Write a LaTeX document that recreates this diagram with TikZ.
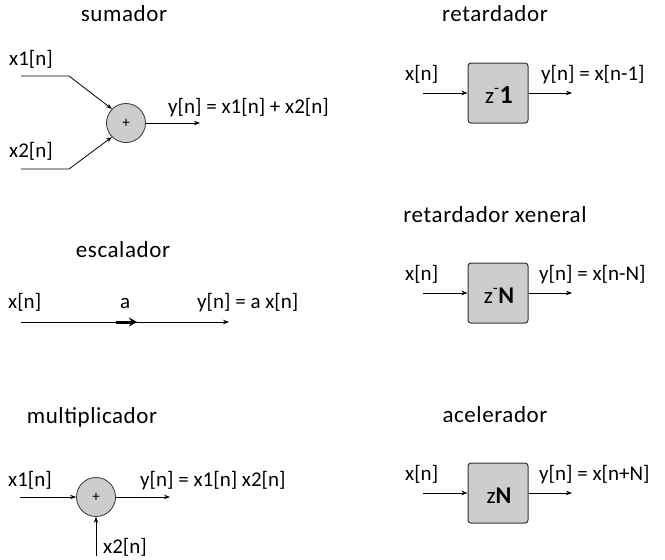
\documentclass[tikz,border=0pt]{standalone}
\usepackage{fontspec}
\setmainfont{Carlito}
\usetikzlibrary{arrows.meta}
\definecolor{boxgray}{HTML}{CDCDCD}
\definecolor{edgegray}{HTML}{333333}
\begin{document}
\begin{tikzpicture}[x=1pt,y=-1pt,
  title/.style={font=\fontsize{23}{25}\selectfont\addfontfeature{LetterSpace=2.5}, anchor=base},
  lbl/.style={font=\fontsize{21}{23}\selectfont, anchor=base west, inner sep=0pt},
  sig/.style={line width=0.8pt, -{Stealth[length=6pt,width=4.5pt]}},
  sumnode/.style={circle, draw=edgegray, line width=0.8pt, fill=boxgray, minimum size=39pt, inner sep=0pt, font=\fontsize{15}{15}\selectfont},
  delaybox/.style={draw=edgegray, line width=1pt, fill=boxgray, rounded corners=3pt, minimum width=60pt, minimum height=60pt, inner sep=0pt},
  boxtext/.style={font=\fontsize{23}{25}\selectfont, anchor=base, inner sep=0pt}
]
\useasboundingbox (0,0) rectangle (665,560);

% ---------- sumador ----------
\node[title] (t1) at (124,21) {sumador};
\node[sumnode] (s) at (126,123) {+};
\node[lbl] (sx1) at (9,65) {x1[n]};
\node[lbl] (sx2) at (9,157) {x2[n]};
\coordinate (a1) at (21,76);
\coordinate (b1) at (69,76);
\coordinate (a2) at (21,169);
\coordinate (b2) at (69,169);
\draw[sig] (a1) -- (b1) -- (s.135);
\draw[sig] (a2) -- (b2) -- (s.225);
\coordinate (so) at (200,123);
\draw[sig] (s.east) -- (so);
\node[lbl] (sy) at (168,113) {y[n] = x1[n] + x2[n]};

% ---------- escalador ----------
\node[title] (t2) at (123,257) {escalador};
\node[lbl] (ex) at (8,308) {x[n]};
\node[lbl] (ea) at (120,308) {a};
\node[lbl] (ey) at (197,308) {y[n] = a x[n]};
\coordinate (e0) at (21,322);
\coordinate (e1) at (229,322);
\coordinate (m0) at (116,322);
\coordinate (m1) at (137,322);
\draw[sig] (e0) -- (e1);
\draw[line width=3pt, -{Stealth[length=8pt,width=9pt]}] (m0) -- (m1);

% ---------- multiplicador ----------
\node[title] (t3) at (92,423) {multiplicador};
\node[sumnode] (m) at (96,497) {+};
\node[lbl] (mx1) at (8,486) {x1[n]};
\node[lbl] (my) at (140,486) {y[n] = x1[n] x2[n]};
\node[lbl] (mx2) at (103,553) {x2[n]};
\coordinate (mi) at (20,497);
\coordinate (mo) at (170,497);
\coordinate (mb) at (96,556);
\draw[sig] (mi) -- (m.west);
\draw[sig] (m.east) -- (mo);
\draw[sig] (mb) -- (m.south);

% ---------- retardador ----------
\node[title] (t4) at (495,21) {retardador};
\node[delaybox] (d1) at (498,93) {};
\node[boxtext] (d1t) at (499,103) {z\textsuperscript{-}{\fontsize{26}{26}\selectfont\bfseries 1}};
\node[lbl] (d1x) at (405,80) {x[n]};
\node[lbl] (d1y) at (541,80) {y[n] = x[n-1]};
\coordinate (d1i) at (423,93);
\coordinate (d1o) at (572,93);
\draw[sig] (d1i) -- (d1.west);
\draw[sig] (d1.east) -- (d1o);

% ---------- retardador xeneral ----------
\node[title] (t5) at (495,222) {retardador xeneral};
\node[delaybox] (d2) at (498,293) {};
\node[boxtext] (d2t) at (499,303) {z\textsuperscript{-}{\fontsize{24}{24}\selectfont\bfseries N}};
\node[lbl] (d2x) at (405,280) {x[n]};
\node[lbl] (d2y) at (539,280) {y[n] = x[n-N]};
\coordinate (d2i) at (423,293);
\coordinate (d2o) at (572,293);
\draw[sig] (d2i) -- (d2.west);
\draw[sig] (d2.east) -- (d2o);

% ---------- acelerador ----------
\node[title] (t6) at (495,422) {acelerador};
\node[delaybox] (d3) at (498,493) {};
\node[boxtext] (d3t) at (499,503) {z{\fontsize{24}{24}\selectfont\bfseries N}};
\node[lbl] (d3x) at (405,480) {x[n]};
\node[lbl] (d3y) at (539,480) {y[n] = x[n+N]};
\coordinate (d3i) at (423,493);
\coordinate (d3o) at (572,493);
\draw[sig] (d3i) -- (d3.west);
\draw[sig] (d3.east) -- (d3o);
\end{tikzpicture}
\end{document}
